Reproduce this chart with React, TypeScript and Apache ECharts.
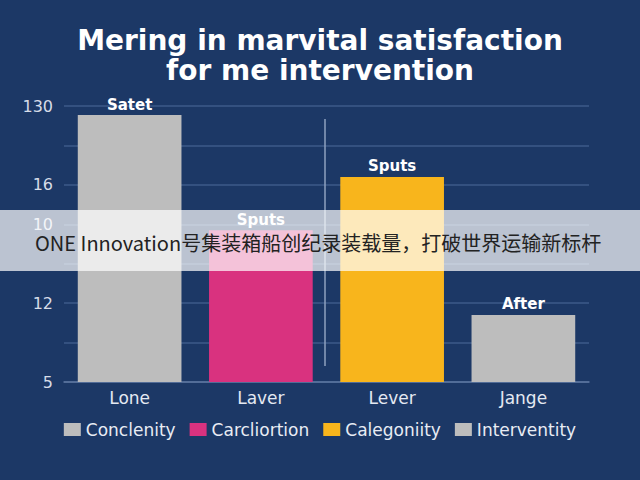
import * as echarts from 'echarts'
import { useEffect, useRef } from 'react'

const categories = ['Lone', 'Laver', 'Lever', 'Jange']
const seriesNames = ['Conclenity', 'Carcliortion', 'Calegoniity', 'Interventity']
const values = [6.77, 3.85, 5.2, 1.7]
const barLabels = ['Satet', 'Sputs', 'Sputs', 'After']
const colors = ['#bdbdbd', '#d9327f', '#f8b51c', '#bdbdbd']
// y tick labels from the bottom (0) to the top (7)
const tickLabels = ['5', '', '12', '', '10', '16', '', '130']
const bannerText = 'ONE Innovation号集装箱船创纪录装载量，打破世界运输新标杆'

function App() {
	const chartRef = useRef<HTMLDivElement>(null)

	useEffect(() => {
		const myChart = echarts.init(chartRef.current, null, { renderer: 'svg' })

		const series = seriesNames.map((name, i) => ({
			name,
			type: 'bar',
			barWidth: '79%',
			barGap: '-100%',
			itemStyle: { color: colors[i] },
			data: values.map((v, j) => (j === i ? v : null)),
			label: {
				show: true,
				position: 'top',
				distance: 3,
				formatter: () => barLabels[i],
				color: '#ffffff',
				fontSize: 15,
				fontWeight: 'bold',
				fontFamily: 'DejaVu Sans',
			},
		}))

		myChart.setOption({
			animation: false,
			backgroundColor: '#1c3866',
			title: {
				text: 'Mering in marvital satisfaction\nfor me intervention',
				left: 'center',
				top: 20,
				textStyle: {
					color: '#ffffff',
					fontSize: 28,
					fontWeight: 'bold',
					fontFamily: 'DejaVu Sans',
					lineHeight: 30,
				},
			},
			grid: { left: 64, right: 51, top: 106, bottom: 98 },
			xAxis: {
				type: 'category',
				data: categories,
				axisLine: { lineStyle: { color: '#5d77a0', width: 1.5 } },
				axisTick: { show: false },
				axisLabel: {
					color: '#e4e9f2',
					fontSize: 17,
					fontFamily: 'DejaVu Sans',
					margin: 7,
				},
			},
			yAxis: {
				type: 'value',
				min: 0,
				max: 7,
				interval: 1,
				axisLine: { show: false },
				axisTick: { show: false },
				splitLine: { lineStyle: { color: '#3d5a8a', width: 1.5 } },
				axisLabel: {
					color: '#d6dce8',
					fontSize: 16,
					fontFamily: 'DejaVu Sans',
					margin: 11,
					formatter: (v: number) => tickLabels[Math.round(v)] ?? '',
				},
			},
			legend: {
				bottom: 37,
				left: 'center',
				itemWidth: 17,
				itemHeight: 13,
				itemGap: 14,
				icon: 'rect',
				textStyle: { color: '#e8ecf4', fontSize: 17, fontFamily: 'DejaVu Sans' },
				data: seriesNames,
			},
			series,
			graphic: [
				{
					type: 'line',
					shape: { x1: 325, y1: 119, x2: 325, y2: 366 },
					style: { stroke: '#8ea0bf', lineWidth: 1.5 },
					z: 5,
				},
				{
					type: 'rect',
					shape: { x: 0, y: 210, width: 640, height: 61 },
					style: { fill: 'rgba(255,255,255,0.7)' },
					z: 100,
				},
				{
					type: 'text',
					x: 35,
					y: 242,
					style: {
						text: bannerText,
						fill: '#222222',
						fontSize: 20,
						fontFamily: 'Noto Sans CJK SC',
						verticalAlign: 'middle',
					},
					z: 101,
				},
			],
		})

		return () => {
			myChart.dispose()
		}
	}, [])

	return (
		<div
			ref={chartRef}
			style={{ position: 'fixed', left: 0, top: 0, width: '640px', height: '480px' }}
		/>
	)
}

export default App
